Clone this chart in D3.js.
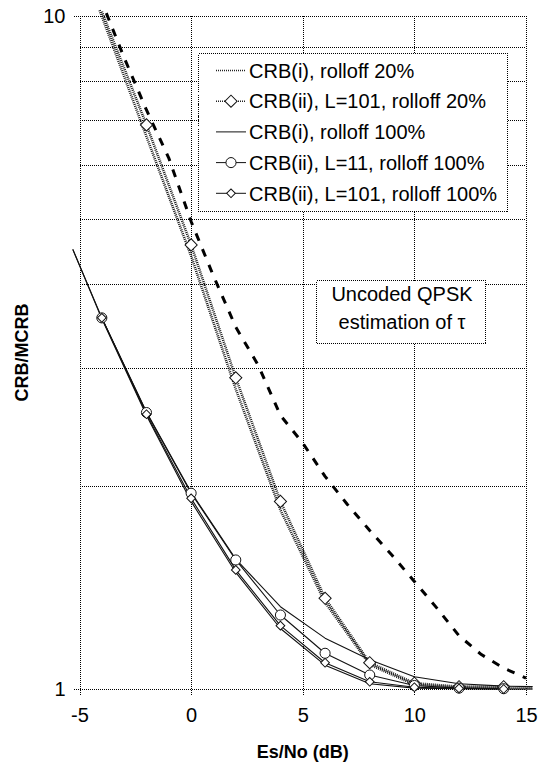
<!DOCTYPE html>
<html><head><meta charset="utf-8">
<script src="https://cdn.jsdelivr.net/npm/d3@7"></script>
<style>body{margin:0;background:#fff}svg{display:block;font-family:Arial,"Liberation Sans",sans-serif}</style>
</head><body>
<svg id="c" width="540" height="773"></svg>
<script>
// ---- data ----
const xTicks = [-5, 0, 5, 10, 15];
const yGrid = [1, 2, 3, 4, 5, 6, 7, 8, 9, 10];
const yTickLabels = [1, 10];

const crbI20X = [-4.1, -2, 0, 2, 4, 6, 8, 10, 12, 14, 15.3];
const crbI20Y = [10.2, 6.62, 4.40, 2.79, 1.845, 1.345, 1.087, 1.015, 1.005, 1.003, 1.002];

const crbII101r20X = [-4, -2, 0, 2, 4, 6, 8, 10, 12, 14];
const crbII101r20Y = [10.15, 6.89, 4.57, 2.90, 1.90, 1.364, 1.094, 1.02, 1.008, 1.008];

const crbI100X = [-5.3, -4, -2, 0, 2, 4, 6, 8, 10, 12, 14, 15.3];
const crbI100Y = [4.5, 3.55, 2.55, 1.90, 1.49, 1.23, 1.085, 1.018, 1.003, 1.001, 1.0, 1.0];

const crbII11r100X = [-4, -2, 0, 2, 4, 6, 8, 10, 12, 14];
const crbII11r100Y = [3.56, 2.575, 1.954, 1.555, 1.288, 1.13, 1.049, 1.012, 1.003, 1.001];

const crbII101r100X = [-4, -2, 0, 2, 4, 6, 8, 10, 12, 14];
const crbII101r100Y = [3.56, 2.56, 1.92, 1.503, 1.242, 1.094, 1.025, 1.006, 1.002, 1.0];

const upperX = [-5.3, -4, -2, 0, 2, 4, 6, 8, 10, 12, 14, 15.3];
const upperY = [4.5, 3.56, 2.58, 1.96, 1.56, 1.325, 1.19, 1.105, 1.043, 1.018, 1.01, 1.008];

const dashedX = [-3.8, -3, -2, -1, 0, 1, 2, 3, 4, 5, 6, 7, 8, 9, 10, 11, 12, 13, 14, 15];
const dashedY = [10.1, 8.67, 7.25, 6.15, 4.95, 4.11, 3.45, 3.03, 2.55, 2.32, 2.07, 1.88, 1.72, 1.58, 1.445, 1.32, 1.20, 1.125, 1.074, 1.038];

const legendLabels = ["CRB(i), rolloff 20%", "CRB(ii), L=101, rolloff 20%", "CRB(i), rolloff 100%", "CRB(ii), L=11, rolloff 100%", "CRB(ii), L=101, rolloff 100%"];
const noteLines = ["Uncoded QPSK", "estimation of \u03c4"];

// ---- layout ----
const L = 79.5, R = 526, T = 16, B = 689;
const svg = d3.select("#c");
const x = d3.scaleLinear().domain([-5, 15]).range([L, R]);
const y = d3.scaleLog().domain([1, 10]).range([B, T]);

const grid = svg.append("g").attr("stroke", "#000").attr("stroke-width", 1).attr("stroke-dasharray", "1,1")
  .attr("shape-rendering", "crispEdges");
grid.selectAll("line.h").data(yGrid).join("line")
  .attr("x1", L).attr("x2", R).attr("y1", d => Math.round(y(d)) + 0.5).attr("y2", d => Math.round(y(d)) + 0.5);
grid.selectAll("line.v").data(xTicks).join("line")
  .attr("y1", T).attr("y2", B).attr("x1", d => Math.round(x(d)) + 0.5).attr("x2", d => Math.round(x(d)) + 0.5);

const xAxis = svg.append("g").attr("transform", `translate(0,${Math.round(B) + 0.5})`)
  .call(d3.axisBottom(x).tickValues(xTicks).tickSize(6).tickPadding(12).tickFormat(d => String(d)));
const yAxis = svg.append("g").attr("transform", `translate(${Math.round(L) + 0.5},0)`)
  .call(d3.axisLeft(y).tickValues(yTickLabels).tickSize(7).tickPadding(8).tickFormat(d => String(d)));
[xAxis, yAxis].forEach(a => {
  a.select(".domain").remove();
  a.selectAll(".tick line").attr("stroke", "#000").attr("stroke-dasharray", "1,1").attr("shape-rendering", "crispEdges");
  a.selectAll(".tick text").attr("font-size", 20).attr("fill", "#000").attr("font-family", "Arial, 'Liberation Sans', sans-serif");
});

// ---- series ----
const line = d3.line().x(d => x(d[0])).y(d => y(d[1]));
const zip = (a, b) => a.map((v, i) => [v, b[i]]);

function drawLine(xs, ys, style) {
  svg.append("path").datum(zip(xs, ys)).attr("d", line).attr("fill", "none")
    .attr("stroke", style.color).attr("stroke-width", style.width)
    .attr("stroke-dasharray", style.dash || null).attr("stroke-linejoin", "round");
}
function markerPath(type, size) {
  return type === "circle" ? d3.symbol(d3.symbolCircle, size)() : d3.symbol(d3.symbolSquare, size)();
}
function drawMarkers(xs, ys, type, size) {
  svg.append("g").selectAll("path").data(zip(xs, ys).filter(d => d[1] <= 10)).join("path")
    .attr("d", markerPath(type, size))
    .attr("transform", d => `translate(${x(d[0])},${y(d[1])})` + (type === "diamond" ? " rotate(45)" : ""))
    .attr("fill", "#fff").attr("stroke", "#111").attr("stroke-width", 1);
}

const sDotted = { color: "#1a1a1a", width: 2.6, dash: "1,1" };
const sThin = { color: "#111", width: 1.1 };

drawLine(dashedX, dashedY, { color: "#000", width: 3, dash: "8,9" });
drawLine(crbI20X, crbI20Y, sDotted);
drawLine(crbII101r20X, crbII101r20Y, sDotted);
drawLine(upperX, upperY, sThin);
drawLine(crbI100X, crbI100Y, sThin);
drawLine(crbII11r100X, crbII11r100Y, sThin);
drawLine(crbII101r100X, crbII101r100Y, sThin);
drawMarkers(crbII101r20X, crbII101r20Y, "diamond", 74);
drawMarkers(crbII11r100X, crbII11r100Y, "circle", 80);
drawMarkers(crbII101r100X, crbII101r100Y, "diamond", 38);

// ---- legend ----
const lg = svg.append("g");
lg.append("rect").attr("x", 198.5).attr("y", 53.5).attr("width", 309).attr("height", 158)
  .attr("fill", "#fff").attr("stroke", "#000").attr("stroke-dasharray", "1,1").attr("shape-rendering", "crispEdges");
const legendStyles = [
  { s: { color: "#222", width: 1.6, dash: "1,1" }, m: null },
  { s: { color: "#222", width: 1.6, dash: "1,1" }, m: ["diamond", 74] },
  { s: { color: "#111", width: 1 }, m: null },
  { s: { color: "#111", width: 1 }, m: ["circle", 80] },
  { s: { color: "#111", width: 1 }, m: ["diamond", 38] }
];
legendLabels.forEach((t, i) => {
  const cy = 70.5 + i * 30.7;
  const st = legendStyles[i];
  lg.append("line").attr("x1", 216).attr("x2", 246).attr("y1", cy).attr("y2", cy)
    .attr("stroke", st.s.color).attr("stroke-width", st.s.width).attr("stroke-dasharray", st.s.dash || null);
  if (st.m) {
    lg.append("path").attr("d", markerPath(st.m[0], st.m[1]))
      .attr("transform", `translate(231,${cy})` + (st.m[0] === "diamond" ? " rotate(45)" : ""))
      .attr("fill", "#fff").attr("stroke", "#111");
  }
  lg.append("text").attr("x", 249).attr("y", cy).attr("dy", "0.36em").attr("font-size", 20).text(t);
});

// ---- note box ----
svg.append("rect").attr("x", 316.5).attr("y", 280.5).attr("width", 169).attr("height", 63)
  .attr("fill", "#fff").attr("stroke", "#000").attr("stroke-dasharray", "1,1").attr("shape-rendering", "crispEdges");
noteLines.forEach((t, i) => {
  svg.append("text").attr("x", 402).attr("y", 294 + i * 27.5).attr("dy", "0.36em")
    .attr("text-anchor", "middle").attr("font-size", 20).text(t);
});

// ---- axis titles ----
svg.append("text").attr("x", (L + R) / 2).attr("y", 752).attr("dy", "0.36em").attr("text-anchor", "middle")
  .attr("font-weight", "bold").attr("font-size", 18).text("Es/No (dB)");
svg.append("text").attr("transform", `translate(22,${(T + B) / 2}) rotate(-90)`).attr("dy", "0.36em")
  .attr("text-anchor", "middle").attr("font-weight", "bold").attr("font-size", 18).text("CRB/MCRB");
</script>
</body></html>
